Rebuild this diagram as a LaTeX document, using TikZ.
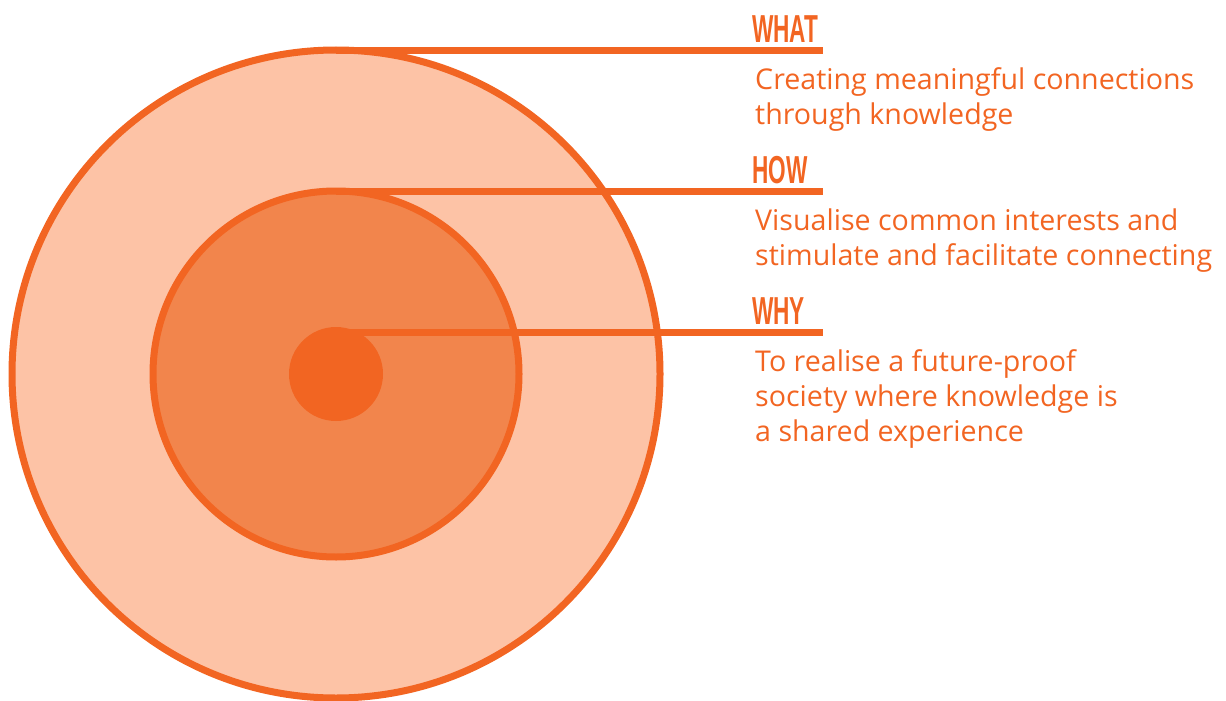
\documentclass[tikz,border=0pt]{standalone}
\usepackage{fontspec}
\usepackage{graphicx}
\setmainfont{Open Sans}
\newfontfamily\headfont{Liberation Sans}
\definecolor{brand}{RGB}{242,101,34}
\definecolor{peach}{RGB}{253,195,166}
\definecolor{apricot}{RGB}{242,133,76}

\begin{document}
\begin{tikzpicture}[x=1pt, y=-1pt,
    ring/.style={draw=brand, line width=7pt},
    bar/.style={draw=brand, line width=7pt},
    head/.style={anchor=base west, inner sep=0pt, text=brand,
        font=\headfont\bfseries\fontsize{39}{39}\selectfont},
    body/.style={anchor=north west, inner sep=0pt, align=left, text=brand,
        font=\fontsize{28.6}{35}\selectfont}]
\useasboundingbox (0,0) rectangle (1226,701);
\coordinate (c) at (336,374);
% rings, outer first
\fill[peach] (c) circle (324pt);
\draw[ring] (c) circle (324pt);
\fill[apricot] (c) circle (183pt);
\draw[ring] (c) circle (183pt);
\fill[brand] (c) circle (47pt);
% one bar, heading and text per ring
\foreach \i/\y/\head/\txt in {
    1/50.5/WHAT/{Creating meaningful connections\\through knowledge},
    2/191.5/HOW/{Visualise common interests and\\stimulate and facilitate connecting},
    3/332.5/WHY/{To realise a future-proof\\society where knowledge is\\a shared experience}}{
  \coordinate (from\i) at (336,\y);
  \coordinate (to\i) at (823,\y);
  \draw[bar] (from\i) -- (to\i);
  \node[head] (head\i) at (752,\y-8) {\scalebox{0.58}[1]{\head}};
  \node[body] (text\i) at (755,\y+17) {\txt};
}
\end{tikzpicture}
\end{document}
